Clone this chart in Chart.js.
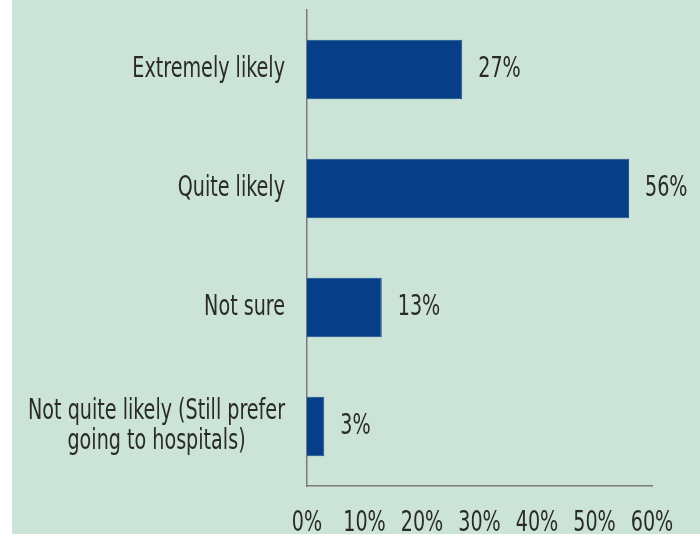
<!DOCTYPE html>
<html>
<head>
<meta charset="utf-8">
<script src="https://cdn.jsdelivr.net/npm/chart.js@4"></script>
<style>
    html, body { margin: 0; padding: 0; background: #ffffff; }
    #wrap { position: absolute; left: 12px; top: 0; width: 688px; height: 534px; background: #cce4d7; }
</style>
</head>
<body>
<div id="wrap"><canvas id="likelyChart" width="688" height="534"></canvas></div>
<script>
// categories and values
const categories = [
    'Extremely likely',
    'Quite likely',
    'Not sure',
    ['Not quite likely (Still prefer', 'going to hospitals)']
];
const shares = [27, 56, 13, 3];
const valueLabels = ['27%', '56%', '13%', '3%'];
const xTicks = [0, 10, 20, 30, 40, 50, 60];

const fontFamily = "'DejaVu Sans Condensed', 'DejaVu Sans', sans-serif";
const fontSize = 28;
const squeeze = 0.76;   // the original uses a narrow font, no narrow face here
const textColor = '#2a2a2a';

// draw text squeezed horizontally around its own anchor point
function squeezedFill(ctx, origFill, text, x, y) {
    ctx.save();
    ctx.translate(x, y);
    ctx.scale(squeeze, 1);
    origFill.call(ctx, text, 0, 0);
    ctx.restore();
}

// wrap a scale's label drawing so its tick text comes out narrow
function squeezeLabels(scale) {
    if (scale._squeezed) return;
    const orig = scale.drawLabels;
    scale.drawLabels = function (area) {
        const ctx = this.ctx;
        const origFill = ctx.fillText;
        ctx.fillText = function (text, x, y) { squeezedFill(ctx, origFill, text, x, y); };
        try { orig.call(this, area); } finally { ctx.fillText = origFill; }
    };
    scale._squeezed = true;
}

// multi-line category labels are centred line by line, like the original
function centreMultiline(scale) {
    squeezeLabels(scale);
    if (scale._centred) return;
    const orig = scale._computeLabelItems;
    scale._computeLabelItems = function (area) {
        const items = orig.call(this, area);
        const ctx = this.ctx;
        items.forEach(item => {
            if (!Array.isArray(item.label)) return;
            ctx.save();
            ctx.font = item.font.string;
            const widest = Math.max(...item.label.map(l => ctx.measureText(l).width)) * squeeze;
            ctx.restore();
            item.options.textAlign = 'center';
            item.options.translation[0] -= widest / 2;
        });
        return items;
    };
    scale._centred = true;
}

// write the percentage just to the right of each bar
const valueLabelPlugin = {
    id: 'valueLabels',
    afterDatasetsDraw(chart) {
        const ctx = chart.ctx;
        const meta = chart.getDatasetMeta(0);
        ctx.save();
        ctx.font = fontSize + 'px ' + fontFamily;
        ctx.fillStyle = textColor;
        ctx.textAlign = 'left';
        ctx.textBaseline = 'middle';
        meta.data.forEach((bar, i) => {
            squeezedFill(ctx, ctx.fillText, valueLabels[i], bar.x + 16, bar.y);
        });
        ctx.restore();
    }
};

const ctx = document.getElementById('likelyChart').getContext('2d');
new Chart(ctx, {
    type: 'bar',
    data: {
        labels: categories,
        datasets: [{
            data: shares,
            backgroundColor: '#063e88',
            borderColor: '#1c4f93',
            borderWidth: 1,
            barPercentage: 0.5,
            categoryPercentage: 1
        }]
    },
    options: {
        indexAxis: 'y',
        responsive: false,
        animation: false,
        layout: { padding: { top: 10, right: 48, left: 0, bottom: 0 } },
        plugins: {
            legend: { display: false },
            tooltip: { enabled: false }
        },
        scales: {
            x: {
                min: 0,
                max: 60,
                afterBuildTicks(scale) {
                    scale.ticks = xTicks.map(v => ({ value: v }));
                },
                afterFit(scale) {
                    scale.height = 48;
                    scale.paddingLeft = 0;
                    scale.paddingRight = 0;
                },
                afterUpdate: squeezeLabels,
                grid: { display: false, drawTicks: false },
                border: { display: true, color: '#7a7a7a', width: 1.5 },
                ticks: {
                    padding: 21,
                    color: textColor,
                    font: { family: fontFamily, size: fontSize },
                    maxRotation: 0,
                    autoSkip: false,
                    callback: v => v + '%'
                }
            },
            y: {
                afterFit(scale) {
                    scale.width = 295;
                    scale.paddingTop = 0;
                    scale.paddingBottom = 0;
                },
                afterUpdate: centreMultiline,
                grid: { display: false, drawTicks: false },
                border: { display: true, color: '#7a7a7a', width: 1.5 },
                ticks: {
                    padding: 22,
                    color: textColor,
                    font: { family: fontFamily, size: fontSize, lineHeight: 1.07 },
                    crossAlign: 'near'
                }
            }
        }
    },
    plugins: [valueLabelPlugin]
});
</script>
</body>
</html>
